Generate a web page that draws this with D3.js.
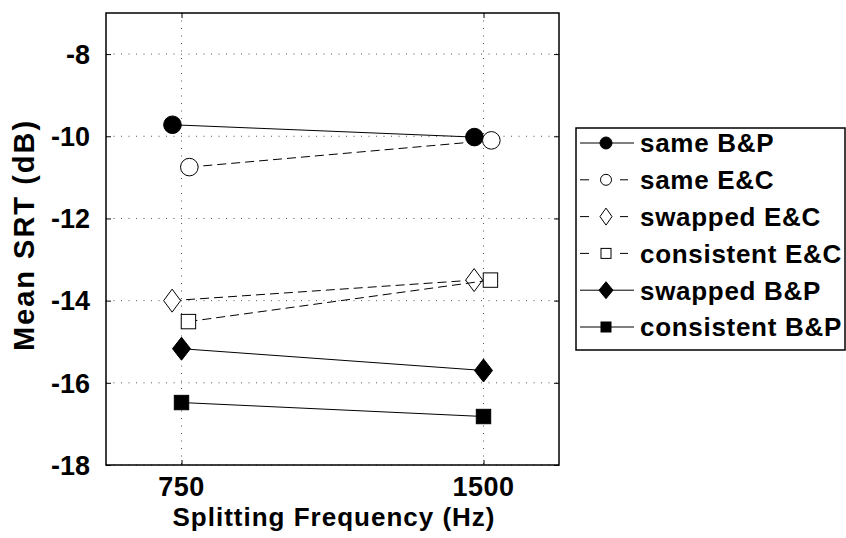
<!DOCTYPE html>
<meta charset="utf-8">
<style>
body { margin: 0; background: #fff; }
text { font-family: Arial, "Liberation Sans", sans-serif; font-weight: bold; fill: #000; }
.grid line { stroke: #555; stroke-width: 1; stroke-dasharray: 1,6.5; }
</style>
<svg width="846" height="538"></svg>
<script src="https://cdn.jsdelivr.net/npm/d3@7"></script>
<script>

// categories (x) and tick values
var freqLabels = ["750", "1500"];
var yTicks = [-18, -16, -14, -12, -10, -8];

// series values (Mean SRT, dB)
var seriesNames = ["same B&P", "same E&C", "swapped E&C", "consistent E&C", "swapped B&P", "consistent B&P"];
var sameBP        = [-9.72, -10.02];
var sameEC        = [-10.75, -10.10];
var swappedEC     = [-14.00, -13.50];
var consistentEC  = [-14.51, -13.50];
var swappedBP     = [-15.17, -15.70];
var consistentBP  = [-16.48, -16.82];
// small horizontal jitter of each series around its category
var jitter = [-0.03, 0.026, -0.031, 0.023, 0, 0];

var values = [sameBP, sameEC, swappedEC, consistentEC, swappedBP, consistentBP];
var styles = [
  {shape: "circle",  filled: true,  dashed: false},
  {shape: "circle",  filled: false, dashed: true},
  {shape: "diamond", filled: false, dashed: true},
  {shape: "square",  filled: false, dashed: true},
  {shape: "diamond", filled: true,  dashed: false},
  {shape: "square",  filled: true,  dashed: false}
];

var svg = d3.select("svg");
var box = {left: 106, right: 559, top: 13, bottom: 465};

var x = d3.scaleLinear().domain([0.75, 2.25]).range([box.left, box.right]);
var y = d3.scaleLinear().domain([-18, -7]).range([box.bottom, box.top]);

// grid
var grid = svg.append("g").attr("class", "grid");
grid.selectAll(".gy").data(yTicks).enter().append("line")
    .attr("x1", box.left).attr("x2", box.right)
    .attr("y1", function(d) { return y(d); }).attr("y2", function(d) { return y(d); });
grid.selectAll(".gx").data(freqLabels).enter().append("line")
    .attr("x1", function(d, i) { return x(i + 1); }).attr("x2", function(d, i) { return x(i + 1); })
    .attr("y1", box.top).attr("y2", box.bottom);

// axes (ticks inside, mirrored)
function noDomain(g) { g.select(".domain").remove(); }
svg.append("g").attr("transform", "translate(0," + box.bottom + ")")
    .call(d3.axisTop(x).tickValues([1, 2]).tickSize(5).tickFormat("")).call(noDomain);
svg.append("g").attr("transform", "translate(0," + box.top + ")")
    .call(d3.axisBottom(x).tickValues([1, 2]).tickSize(5).tickFormat("")).call(noDomain);
svg.append("g").attr("transform", "translate(" + box.left + ",0)")
    .call(d3.axisRight(y).tickValues(yTicks).tickSize(5).tickFormat("")).call(noDomain);
svg.append("g").attr("transform", "translate(" + box.right + ",0)")
    .call(d3.axisLeft(y).tickValues(yTicks).tickSize(5).tickFormat("")).call(noDomain);

svg.append("rect")
    .attr("x", box.left).attr("y", box.top)
    .attr("width", box.right - box.left).attr("height", box.bottom - box.top)
    .attr("fill", "none").attr("stroke", "#000").attr("stroke-width", 1.5);

// tick labels
svg.selectAll(".ylab").data(yTicks).enter().append("text")
    .attr("x", 90).attr("y", function(d) { return y(d); })
    .attr("dy", "0.36em").attr("text-anchor", "end")
    .style("font-size", "27px")
    .text(function(d) { return d; });
svg.selectAll(".xlab").data(freqLabels).enter().append("text")
    .attr("x", function(d, i) { return x(i + 1); }).attr("y", 496)
    .attr("text-anchor", "middle")
    .style("font-size", "27px").style("letter-spacing", "0.5px")
    .text(function(d) { return d; });

svg.append("text")
    .attr("x", 334).attr("y", 526)
    .attr("text-anchor", "middle").style("font-size", "26px")
    .style("letter-spacing", "1px")
    .text("Splitting Frequency (Hz)");
svg.append("text")
    .attr("transform", "translate(34,235) rotate(-90)")
    .attr("text-anchor", "middle").style("font-size", "29px")
    .style("letter-spacing", "2px")
    .text("Mean SRT (dB)");

function marker(sel, st, s) {
  var fill = st.filled ? "#000" : "#fff";
  if (st.shape === "circle") {
    sel.append("circle").attr("r", s.r);
  } else if (st.shape === "diamond") {
    sel.append("path").attr("d", "M0," + (-s.dh) + "L" + s.dw + ",0L0," + s.dh + "L" + (-s.dw) + ",0Z");
  } else {
    sel.append("rect").attr("x", -s.sq).attr("y", -s.sq).attr("width", 2 * s.sq).attr("height", 2 * s.sq);
  }
  sel.selectAll("circle,path,rect").attr("fill", fill).attr("stroke", "#000").attr("stroke-width", 1);
}

var line = d3.line();
var plot = svg.append("g");
values.forEach(function(vals, k) {
  var st = styles[k];
  var pts = vals.map(function(v, i) { return [x(i + 1 + jitter[k]), y(v)]; });
  plot.append("path")
      .attr("d", line(pts))
      .attr("fill", "none").attr("stroke", "#000").attr("stroke-width", 1)
      .attr("stroke-dasharray", st.dashed ? "9,5" : null);
  pts.forEach(function(p) {
    var g = plot.append("g").attr("transform", "translate(" + p[0] + "," + p[1] + ")");
    marker(g, st, {r: 8.8, dw: st.filled ? 9 : 8.5, dh: 11.5, sq: 7.2});
  });
});

// legend
var leg = svg.append("g");
leg.append("rect").attr("x", 576).attr("y", 128).attr("width", 269).attr("height", 222)
    .attr("fill", "#fff").attr("stroke", "#000").attr("stroke-width", 1.5);
seriesNames.forEach(function(name, k) {
  var st = styles[k];
  var cy = 143 + k * 36.8;
  if (st.dashed) {
    leg.append("line").attr("x1", 580).attr("x2", 589).attr("y1", cy).attr("y2", cy).attr("stroke", "#000");
    leg.append("line").attr("x1", 620).attr("x2", 628).attr("y1", cy).attr("y2", cy).attr("stroke", "#000");
  } else {
    leg.append("line").attr("x1", 580).attr("x2", 634).attr("y1", cy).attr("y2", cy).attr("stroke", "#000");
  }
  var g = leg.append("g").attr("transform", "translate(606," + cy + ")");
  marker(g, st, {r: st.filled ? 6 : 5.5, dw: st.filled ? 7 : 6, dh: 8.5, sq: 5});
  leg.append("text").attr("x", 640).attr("y", cy).attr("dy", "0.36em")
      .style("font-size", "26px").style("letter-spacing", "0.7px").text(name);
});

</script>
